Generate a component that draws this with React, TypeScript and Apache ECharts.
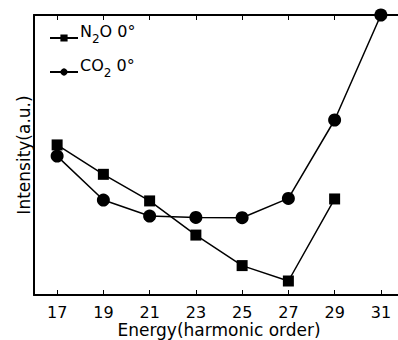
import React, { useEffect, useRef } from "react";
import * as echarts from "echarts";

const harmonics = [17, 19, 21, 23, 25, 27, 29, 31];
const n2oHarmonics = [17, 19, 21, 23, 25, 27, 29];
const n2oValues = [0.536, 0.431, 0.336, 0.214, 0.105, 0.05, 0.343];
const co2Harmonics = [17, 19, 21, 23, 25, 27, 29, 31];
const co2Values = [0.496, 0.339, 0.282, 0.277, 0.276, 0.345, 0.625, 1.0];
const tickLabels = harmonics;

export default function App() {
  const ref = useRef<HTMLDivElement>(null);
  useEffect(() => {
    const chart = echarts.init(ref.current!, null, { renderer: "svg" });
    const font = "DejaVu Sans, sans-serif";
    const legendRich = {
      a: { fontSize: 16, fontFamily: font, color: "#000", lineHeight: 20 },
      s: { fontSize: 12, fontFamily: font, color: "#000", padding: [16, 0, 0, 0], lineHeight: 20 },
    };
    const legendCommon = {
      orient: "vertical",
      left: 44,
      itemWidth: 28,
      itemHeight: 9,
      formatter: (name: string) =>
        name === "N2O" ? "{a|N}{s|2}{a|O 0°}" : "{a|CO}{s|2}{a| 0°}",
      textStyle: { rich: legendRich, padding: [0, 0, 14, -3] },
    };
    chart.setOption({
      animation: false,
      textStyle: { fontFamily: font },
      grid: { left: 34, top: 15, right: -6, bottom: 45, outerBoundsMode: "none" },
      legend: [
        { ...legendCommon, top: 12, data: ["N2O"] },
        { ...legendCommon, top: 46, data: ["CO2"] },
      ],
      xAxis: [
        {
          type: "value",
          min: 16,
          max: 32,
          position: "bottom",
          name: "Energy(harmonic order)",
          nameLocation: "middle",
          nameGap: 26,
          nameMoveOverlap: false,
          nameTextStyle: { fontSize: 17, color: "#000", fontFamily: font, lineHeight: 18 },
          axisLine: { show: true, lineStyle: { color: "#000", width: 2 } },
          axisTick: { show: true, inside: true, length: 5, customValues: tickLabels, lineStyle: { color: "#000", width: 1 } },
          axisLabel: { show: true, customValues: tickLabels, fontSize: 16, lineHeight: 16, color: "#000", margin: 9, fontFamily: font },
          splitLine: { show: false },
        },
        {
          type: "value",
          min: 16,
          max: 32,
          position: "top",
          axisLine: { show: true, lineStyle: { color: "#000", width: 2 } },
          axisTick: { show: true, inside: true, length: 5, customValues: tickLabels, lineStyle: { color: "#000", width: 1 } },
          axisLabel: { show: false },
          splitLine: { show: false },
        },
      ],
      yAxis: {
        type: "value",
        min: 0,
        max: 1,
        name: "Intensity(a.u.)",
        nameLocation: "middle",
        nameGap: 2,
        nameMoveOverlap: false,
        nameTextStyle: { fontSize: 17, color: "#000", fontFamily: font },
        axisLine: { show: true, lineStyle: { color: "#000", width: 2 } },
        axisTick: { show: false },
        axisLabel: { show: false },
        splitLine: { show: false },
      },
      series: [
        {
          name: "N2O",
          type: "line",
          data: n2oHarmonics.map((h, i) => [h, n2oValues[i]]),
          symbol: "rect",
          symbolSize: 11,
          lineStyle: { color: "#000", width: 1.5 },
          itemStyle: { color: "#000" },
          clip: false,
        },
        {
          name: "CO2",
          type: "line",
          data: co2Harmonics.map((h, i) => [h, co2Values[i]]),
          symbol: "circle",
          symbolSize: 13,
          lineStyle: { color: "#000", width: 1.5 },
          itemStyle: { color: "#000" },
          clip: false,
        },
      ],
    });
    return () => chart.dispose();
  }, []);
  return (
    <div
      ref={ref}
      style={{ position: "absolute", left: 0, top: 0, width: 398, height: 340, background: "#fff" }}
    />
  );
}
